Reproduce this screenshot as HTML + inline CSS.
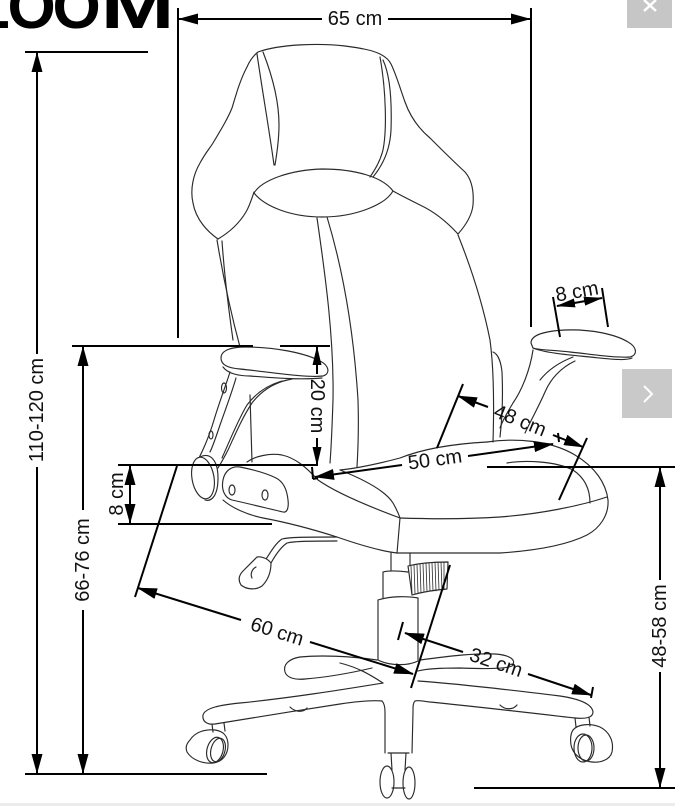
<!DOCTYPE html>
<html><head><meta charset="utf-8"><style>
html,body{margin:0;padding:0;background:#fff;}
svg{display:block;}
.c{fill:none;stroke:#2a2a2a;stroke-width:1.15;stroke-linejoin:round;stroke-linecap:round;}
.d{stroke:#000;stroke-width:2;fill:none;}
.t{font-family:"Liberation Sans",Arial,sans-serif;font-size:20px;fill:#111;text-anchor:middle;dominant-baseline:central;}
</style></head><body>
<svg width="675" height="806" viewBox="0 0 675 806" xmlns="http://www.w3.org/2000/svg">
<defs>
<marker id="a" viewBox="0 0 20 11" refX="19" refY="5.5" markerWidth="20" markerHeight="11" markerUnits="userSpaceOnUse" orient="auto"><path d="M0,0 L20,5.5 L0,11 z" fill="#000"/></marker>
<marker id="b" viewBox="0 0 19 9" refX="18" refY="4.5" markerWidth="19" markerHeight="9" markerUnits="userSpaceOnUse" orient="auto"><path d="M0,0 L19,4.5 L0,9 z" fill="#000"/></marker>
</defs>
<rect width="675" height="806" fill="#fff"/>

<!-- LOOM header text (cropped) -->
<g font-family="Liberation Sans, Arial, sans-serif" font-weight="bold" font-size="62" fill="#000">
<text x="-28" y="28">L</text>
<text x="7.5" y="28">O</text>
<text x="52.5" y="28">O</text>
<text transform="translate(100.6,28) scale(1.43,1)" x="0" y="0">M</text>
</g>

<!-- ===== CHAIR ===== -->
<g class="c">
<!-- backrest outer -->
<path d="M218,239 C208,232 196,220 193,203 C190,190 193,175 200,163 C206,152 210,148 213,143 C222,128 228,118 232,108 C236,95 240,80 247,67 C250,60 253,56 258,52 C280,44 320,43 345,46 C360,48 372,50 380,54 C386,57 389,60 391,64 C396,74 400,88 405,102 C410,116 418,128 430,138 C440,148 452,160 465,172 C472,180 474,192 473,205 C472,215 466,225 458,234"/>
<path d="M218,239 C230,232 240,222 246,212 C250,205 252,198 254,192"/>
<path d="M458,234 C447,222 435,212 420,205 C410,200 400,195 393,191"/>
<path d="M254,193 C262,180 290,170 322,169 C355,169 383,177 393,191 C385,205 355,217 322,217 C292,217 265,207 254,193 Z"/>
<path d="M257,54 C263,95 270,135 274,165"/>
<path d="M263,52 C272,75 279,100 279,125 C279,140 277,153 275,165"/>
<path d="M380,57 C386,90 387,130 383,150 C380,162 375,170 370,177"/>
<path d="M383,60 C390,75 392,100 391,130 C390,150 383,165 373,177"/>
<!-- lower backrest -->
<path d="M217,240 C222,270 230,310 240,347"/>
<path d="M222,241 C224,270 228,305 233,340"/>
<path d="M317,218 C326,280 334,340 333,400 C332,430 331,450 330,463"/>
<path d="M327,217 C340,260 353,320 358,400 C359,430 358,450 357,467"/>
<path d="M458,235 C468,260 482,300 490,340 C494,370 494,410 493,442"/>
<path d="M493,352 C498,354 501,362 502,372 C503,395 502,420 500,437"/>
<path d="M250,395 L252,462"/>

<!-- seat -->
<path d="M247,462 C255,456 270,453 282,455 C295,458 305,466 318,480 C335,492 365,505 400,518"/>
<path d="M340,470 C360,468 385,462 400,458 C420,450 450,444 487,442"/>
<path d="M487,442 C515,438 550,440 575,455 C595,467 606,483 608,500 C609,515 600,528 587,535 C565,546 530,551 500,553 L397,553"/>
<path d="M397,553 C380,551 360,545 337,537 C315,530 290,523 263,518 C248,515 232,508 223,500"/>
<path d="M400,518 C430,519 470,519 500,517 C540,514 580,506 607,497"/>
<path d="M507,463 C525,460 555,461 573,470 C585,478 590,490 590,503"/>
<path d="M340,470 C360,478 385,490 393,503 C397,510 399,515 400,518"/>
<path d="M400,518 L397,553"/>

<!-- left armrest -->
<path d="M221,358 C221,350 232,347 245,347 C275,347 305,353 320,361 C330,366 330,374 323,376 C305,378 270,372 240,369 C228,368 221,365 221,358 Z" fill="#fff"/>
<path d="M223,367 C228,374 240,376 250,376 C275,378 300,380 322,378"/>
<path d="M230,372 C226,385 220,400 214,420 C208,440 202,452 197,462"/>
<path d="M236,378 C232,392 226,408 220,425 C215,440 212,448 210,452"/>
<path d="M292,379 C275,382 262,390 252,403 C242,418 235,435 228,450 C224,458 221,463 218,468"/>
<path d="M282,381 C268,385 256,393 247,405 C238,420 230,440 222,458"/>
<ellipse cx="224" cy="388" rx="2.5" ry="5"/>
<ellipse cx="211" cy="435" rx="2" ry="4"/>
<path d="M200,457 C210,452 218,460 218,478 C218,495 212,502 205,500"/>
<ellipse cx="203" cy="478" rx="11" ry="21" transform="rotate(-10 203 478)" fill="#fff"/>
<path d="M223,480 C225,470 232,466 240,467 C255,470 268,474 276,478 C284,482 287,490 288,500 C289,508 287,513 283,512 C270,509 250,504 232,500 C225,498 221,490 223,480 Z" fill="#fff"/>
<ellipse cx="232" cy="490" rx="3" ry="5"/>
<ellipse cx="265" cy="495" rx="3" ry="5"/>

<!-- right armrest -->
<path d="M531,343 C531,335 545,331 565,330 C590,329 615,334 628,342 C637,347 638,355 630,357 C615,358 590,354 570,352 C552,350 538,350 533,348 Z" fill="#fff"/>
<path d="M533,348 C545,353 570,355 590,357 C610,359 625,361 632,358"/>
<path d="M533,350 C530,370 522,390 513,403 C507,413 502,422 500,428"/>
<path d="M573,357 C560,362 548,370 540,380"/>
<path d="M575,361 C560,368 550,380 545,392 C538,408 530,422 525,433"/>

<!-- gas lever -->
<path d="M337,537 C310,537 290,537 282,539 C276,543 272,550 266,559"/>
<path d="M337,541 C315,541 295,541 287,543 C281,547 276,554 271,563"/>
<path d="M257,557 C262,556 268,559 271,563 C271,572 268,580 262,586 C256,590 247,590 241,585 C238,580 239,575 243,571 Z" fill="#fff"/>
<path d="M252,578 C250,574 252,569 256,567"/>

<!-- gas cylinder -->
<path d="M391,553 L391,571 M410,553 L410,566"/>
<path d="M383,572 C390,570 400,571 408,572 M383,572 L383,598"/>
<path d="M408,566 C420,563 435,562 448,562 L447,589 C435,590 422,592 412,595 Z" fill="#fff"/>
<g stroke-width="0.8">
<path d="M411,566 L412,594 M414,565 L415,594 M417,565 L418,593 M420,564 L421,593 M423,564 L424,592 M426,563 L427,592 M429,563 L430,591 M432,563 L433,591 M435,562 L436,591 M438,562 L439,590 M441,562 L442,590 M444,562 L444,590"/>
</g>
<path d="M378,600 C390,596 408,596 418,598 M378,600 L378,660 M418,598 L418,660 M378,660 C390,666 408,666 418,661"/>

<!-- base -->
<path d="M377,660 C350,656 320,655 300,657 C288,659 283,665 285,672 C287,678 295,680 305,679 C330,677 355,672 372,668"/>
<path d="M383,683 C340,690 290,698 240,703 C220,705 205,708 203,715 C202,722 208,725 215,724 C240,720 300,710 340,704 C360,701 372,700 382,701"/>
<path d="M382,701 C384,703 385,706 385,712 L385,753 M415,701 C413,703 413,706 413,712 L412,753"/>
<path d="M418,681 C460,684 510,690 560,696 C580,699 592,704 593,712 C593,718 585,719 575,718 C540,714 480,707 430,702 C422,701 417,700 415,701"/>
<path d="M420,660 C450,656 475,653 495,654 C510,655 517,660 512,666 C505,669 485,669 460,668 C440,668 425,669 418,671"/>
<path d="M340,663 C360,668 372,676 383,683"/>
<path d="M290,707 C295,712 303,713 307,708 M500,705 C505,710 513,710 517,705"/>
<!-- left caster -->
<path d="M212,724 L213,732 M224,723 L225,731"/>
<path d="M190,740 C195,732 205,729 215,730 C223,731 228,736 228,745 C228,755 222,762 213,763 C203,764 192,760 187,752 C185,747 187,743 190,740 Z"/>
<ellipse cx="215" cy="750" rx="8" ry="13" transform="rotate(15 215 750)"/>
<ellipse cx="218" cy="750" rx="7" ry="12" transform="rotate(15 218 750)"/>
<!-- front caster -->
<path d="M388,753 L409,753 M392,788 L405,788 M391,753 L392,770 M406,753 L405,770"/>
<ellipse cx="387" cy="782" rx="7" ry="16"/>
<ellipse cx="409" cy="783" rx="6" ry="16"/>
<!-- right caster -->
<path d="M575,718 L576,727 M589,717 L590,726"/>
<path d="M573,730 C578,724 590,723 600,727 C610,732 614,742 612,752 C610,760 600,763 592,762 C582,761 573,755 571,745 C570,738 571,733 573,730 Z"/>
<ellipse cx="583" cy="748" rx="9" ry="14"/>
<ellipse cx="586" cy="748" rx="8" ry="13"/>
</g>

<!-- ===== DIMENSION LINES ===== -->
<g class="d">
<line x1="25" y1="52" x2="148" y2="52"/>
<line x1="178" y1="8" x2="178" y2="338"/>
<line x1="531" y1="8" x2="531" y2="327"/>
<line x1="72" y1="346" x2="253" y2="346"/>
<line x1="280" y1="346" x2="330" y2="346"/>
<line x1="118" y1="465" x2="318" y2="465"/>
<line x1="487" y1="467" x2="675" y2="467"/>
<line x1="118" y1="524" x2="272" y2="524"/>
<line x1="25" y1="774" x2="267" y2="774"/>
<line x1="474" y1="788" x2="675" y2="788"/>
<!-- extension lines -->
<line x1="177" y1="466" x2="135" y2="597"/>
<line x1="450" y1="565" x2="411" y2="688"/>
<line x1="463" y1="384" x2="437" y2="448"/>
<line x1="587" y1="438" x2="559" y2="500"/>
<line x1="553" y1="297" x2="560" y2="337"/>
<line x1="602" y1="288" x2="608" y2="327"/>
<line x1="403" y1="622" x2="398" y2="640"/>
<line x1="593" y1="687" x2="591" y2="698"/>
<line x1="312" y1="467" x2="313" y2="479"/>
<line x1="313" y1="479" x2="318" y2="478"/>
<line x1="558" y1="433" x2="559" y2="442"/>
</g>
<g class="d">
<line x1="322" y1="19" x2="179" y2="19" marker-end="url(#a)"/>
<line x1="388" y1="19" x2="530" y2="19" marker-end="url(#a)"/>
<line x1="37" y1="354" x2="37" y2="53" marker-end="url(#a)"/>
<line x1="37" y1="467" x2="37" y2="773" marker-end="url(#a)"/>
<line x1="83" y1="510" x2="83" y2="347" marker-end="url(#a)"/>
<line x1="83" y1="610" x2="83" y2="773" marker-end="url(#a)"/>
<line x1="317" y1="374" x2="317" y2="347" marker-end="url(#b)"/>
<line x1="317" y1="438" x2="317" y2="465" marker-end="url(#b)"/>
<line x1="130" y1="495" x2="130" y2="466" marker-end="url(#a)"/>
<line x1="130" y1="495" x2="130" y2="523" marker-end="url(#a)"/>
<line x1="660" y1="580" x2="660" y2="468" marker-end="url(#a)"/>
<line x1="660" y1="672" x2="660" y2="787" marker-end="url(#a)"/>
<line x1="241" y1="620" x2="138" y2="588" marker-end="url(#a)"/>
<line x1="310" y1="642" x2="413" y2="674" marker-end="url(#a)"/>
<line x1="463" y1="652" x2="405" y2="633" marker-end="url(#a)"/>
<line x1="528" y1="674" x2="591" y2="695" marker-end="url(#a)"/>
<line x1="402" y1="465" x2="315" y2="477" marker-end="url(#a)"/>
<line x1="468" y1="456" x2="553" y2="444" marker-end="url(#a)"/>
<line x1="488" y1="407" x2="458" y2="396" marker-end="url(#a)"/>
<line x1="553" y1="435" x2="583" y2="447" marker-end="url(#a)"/>
<line x1="580" y1="302" x2="557" y2="306" marker-end="url(#b)"/>
<line x1="580" y1="302" x2="602" y2="298" marker-end="url(#b)"/>
</g>

<!-- ===== LABELS ===== -->
<text class="t" x="355" y="19">65 cm</text>
<text class="t" transform="translate(37,410) rotate(-90)">110-120 cm</text>
<text class="t" transform="translate(83,560) rotate(-90)">66-76 cm</text>
<text class="t" transform="translate(117,494) rotate(-90)">8 cm</text>
<text class="t" transform="translate(660,626) rotate(-90)">48-58 cm</text>
<text class="t" transform="translate(317,406) rotate(90)">20 cm</text>
<text class="t" transform="translate(277,632) rotate(17.4)">60 cm</text>
<text class="t" transform="translate(496,663) rotate(18.4)">32 cm</text>
<text class="t" transform="translate(435,460) rotate(-7.9)">50 cm</text>
<text class="t" transform="translate(520,421) rotate(22)">48 cm</text>
<text class="t" transform="translate(577,292) rotate(-10)">8 cm</text>

<!-- overlay UI buttons -->
<rect x="627" y="0" width="45" height="28" fill="#c6c6c6"/>
<path d="M644,0 L656,11 M656,0 L644,11" stroke="#fff" stroke-width="2.5" fill="none"/>
<rect x="622" y="369" width="50" height="49" fill="#c6c6c6" opacity="0.95"/>
<path d="M644,386 L652,394 L644,402" stroke="#fff" stroke-width="2" fill="none"/>

<!-- bottom strip -->
<rect x="0" y="803" width="675" height="3" fill="#ececec"/>
</svg>
</body></html>
